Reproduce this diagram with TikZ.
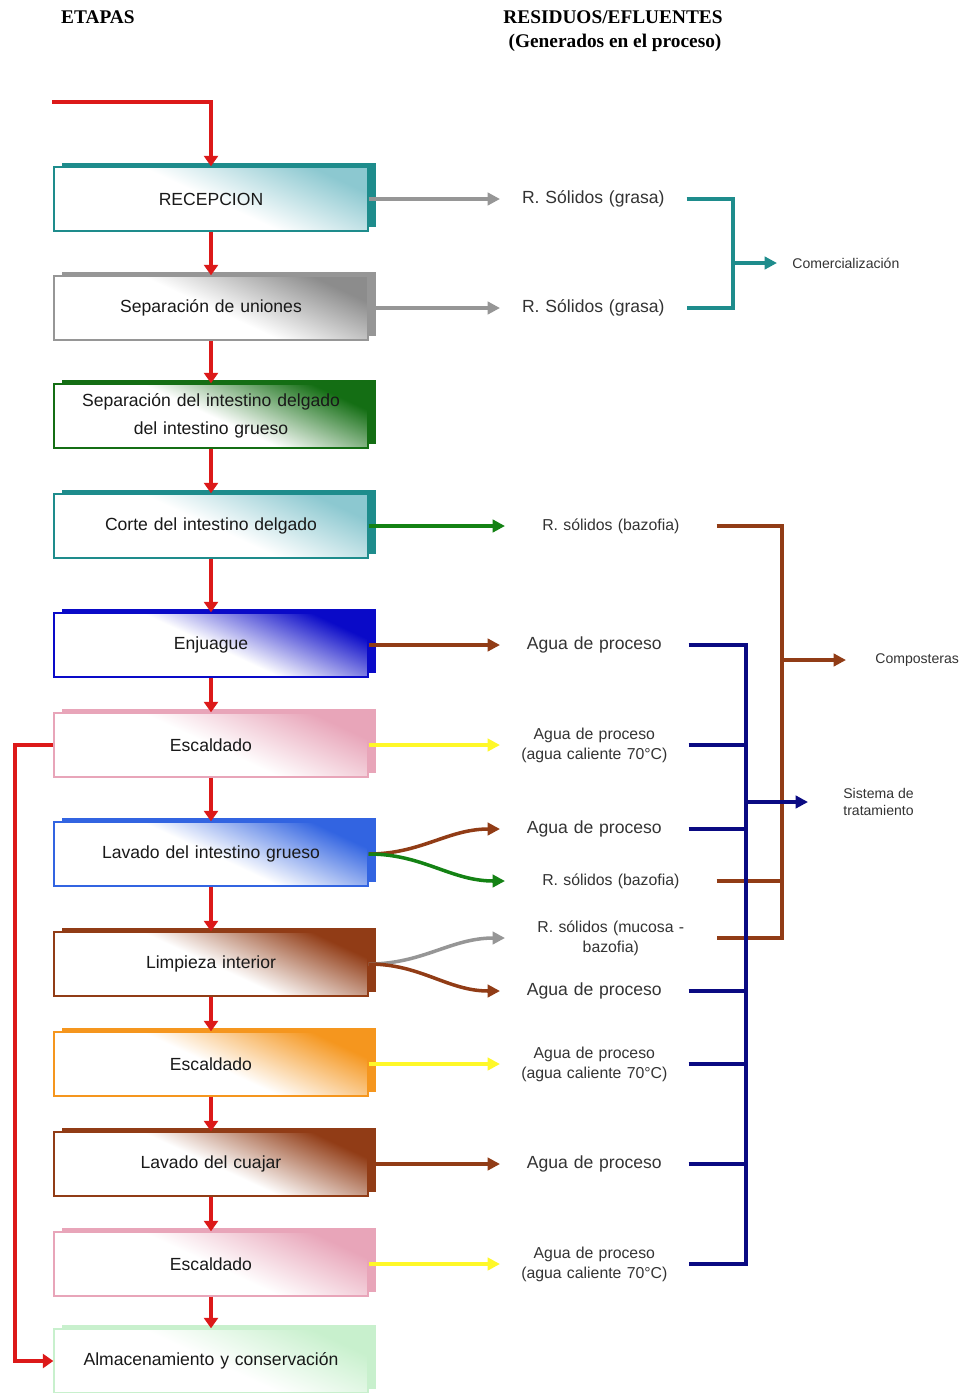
\documentclass[tikz,border=0pt]{standalone}
\usepackage{fontspec}
\setmainfont{Liberation Sans}
\newfontfamily\serifetapa{Liberation Serif}
\usetikzlibrary{arrows.meta,shadows}

\definecolor{verdeazul}{RGB}{30,140,140}
\definecolor{verdeazulclaro}{RGB}{140,200,208}
\definecolor{gris}{RGB}{150,150,150}
\definecolor{grisclaro}{RGB}{140,140,140}
\definecolor{verde}{RGB}{20,110,20}
\definecolor{azul}{RGB}{10,10,200}
\definecolor{azulrey}{RGB}{50,100,225}
\definecolor{rosa}{RGB}{232,165,185}
\definecolor{cafe}{RGB}{145,60,22}
\definecolor{naranja}{RGB}{245,150,30}
\definecolor{verdeclaro}{RGB}{200,240,205}
\definecolor{rojo}{RGB}{220,25,25}
\definecolor{amarillo}{RGB}{255,248,40}
\definecolor{marino}{RGB}{10,10,130}
\definecolor{verdeflecha}{RGB}{20,130,20}

\begin{document}
\begin{tikzpicture}[x=0.02cm,y=-0.02cm,
	etapa/.style 2 args={draw=#1, line width=0.8pt, minimum width=6.28cm, minimum height=1.28cm,
		text width=6cm, align=center, font=\fontsize{10}{16}\selectfont, text=black!90,
		general shadow={fill=#1, shadow xshift=0.16cm, shadow yshift=0.08cm},
		top color=#2, bottom color=white, middle color=white, shading angle=-25},
	residuo/.style={anchor=west, inner sep=0pt, text width=#1, align=center,
		font=\fontsize{10}{12}\selectfont, text=black!80},
	destino/.style={anchor=west, inner xsep=0.3cm, align=left,
		font=\fontsize{8}{9.5}\selectfont, text=black!80},
	titulo/.style={font=\serifetapa\bfseries\fontsize{11}{13}\selectfont},
	flujo/.style={draw=rojo, line width=2.3pt, -{Triangle[length=6pt,width=8pt]}},
	salida/.style={line width=2pt, -{Triangle[length=7pt,width=7pt]}},
	colector/.style={line width=2.3pt}]
	\useasboundingbox (0,0) rectangle (964,1393);

	\node (etapas) at (55,17) [titulo, anchor=west] {ETAPAS};
	\node (residuos) at (613,17) [titulo] {RESIDUOS/EFLUENTES};
	\node (generados) at (615,43) [titulo] {(Generados en el proceso)};

	\node (e1) at (211,199) [etapa={verdeazul}{verdeazulclaro}] {RECEPCION};
	\node (e2) at (211,308) [etapa={gris}{grisclaro}] {Separación de uniones};
	\node (e3) at (211,416) [etapa={verde}{verde}] {Separación del intestino delgado\\del intestino grueso};
	\node (e4) at (211,526) [etapa={verdeazul}{verdeazulclaro}] {Corte del intestino delgado};
	\node (e5) at (211,645) [etapa={azul}{azul}] {Enjuague};
	\node (e6) at (211,745) [etapa={rosa}{rosa}] {Escaldado};
	\node (e7) at (211,854) [etapa={azulrey}{azulrey}] {Lavado del intestino grueso};
	\node (e8) at (211,964) [etapa={cafe}{cafe}] {Limpieza interior};
	\node (e9) at (211,1064) [etapa={naranja}{naranja}] {Escaldado};
	\node (e10) at (211,1164) [etapa={cafe}{cafe}] {Lavado del cuajar};
	\node (e11) at (211,1264) [etapa={rosa}{rosa}] {Escaldado};
	\node (e12) at (211,1361) [etapa={verdeclaro}{verdeclaro}] {Almacenamiento y conservación};

	\node (r1) at (500,199) [residuo=3.72cm] {R. Sólidos (grasa)};
	\node (r2) at (500,308) [residuo=3.72cm] {R. Sólidos (grasa)};
	\node (s1) at (505,526) [residuo=4.22cm, font=\fontsize{9}{11.4}\selectfont] {R. sólidos (bazofia)};
	\node (a1) at (500,645) [residuo=3.76cm] {Agua de proceso};
	\node (a2) at (500,745) [residuo=3.76cm, font=\fontsize{9}{11.4}\selectfont] {Agua de proceso\\(agua caliente 70°C)};
	\node (a3) at (500,829) [residuo=3.76cm] {Agua de proceso};
	\node (s2) at (505,881) [residuo=4.22cm, font=\fontsize{9}{11.4}\selectfont] {R. sólidos (bazofia)};
	\node (s3) at (505,938) [residuo=4.22cm, font=\fontsize{9}{11.4}\selectfont] {R. sólidos (mucosa -\\bazofia)};
	\node (a4) at (500,991) [residuo=3.76cm] {Agua de proceso};
	\node (a5) at (500,1064) [residuo=3.76cm, font=\fontsize{9}{11.4}\selectfont] {Agua de proceso\\(agua caliente 70°C)};
	\node (a6) at (500,1164) [residuo=3.76cm] {Agua de proceso};
	\node (a7) at (500,1264) [residuo=3.76cm, font=\fontsize{9}{11.4}\selectfont] {Agua de proceso\\(agua caliente 70°C)};

	\node (comer) at (777,263) [destino] {Comercialización};
	\node (comp) at (846,660) [destino, inner xsep=0.58cm] {Composteras};
	\node (sist) at (808,802) [destino, inner xsep=0.7cm] {Sistema de\\tratamiento};

	\coordinate (inicio) at (52,102);
	\coordinate (lazo) at (15,745);
	\coordinate (tb) at (733,308);
	\coordinate (tsal) at (733,263);
	\coordinate (kb) at (782,938);
	\coordinate (ksal) at (782,660);
	\coordinate (nb) at (746,1264);
	\coordinate (nsal) at (746,802);

	\draw[flujo] (inicio) -| (e1.north);
	\foreach \a/\b in {e1/e2,e2/e3,e3/e4,e4/e5,e5/e6,e6/e7,e7/e8,e8/e9,e9/e10,e10/e11,e11/e12}
	{
		\draw[flujo] (\a.south) -- (\b.north);
	}
	\draw[flujo] (e6.west) -- (lazo) |- (e12.west);

	\foreach \e/\r/\c in {e1/r1/gris,e2/r2/gris,e4/s1/verdeflecha,e5/a1/cafe,e6/a2/amarillo,e9/a5/amarillo,e10/a6/cafe,e11/a7/amarillo}
	{
		\draw[salida, draw=\c] (\e.east) -- (\r.west);
	}
	\draw[salida, draw=cafe] (e7.east) to[out=0,in=180] (a3.west);
	\draw[salida, draw=verdeflecha] (e7.east) to[out=0,in=180] (s2.west);
	\draw[salida, draw=gris] (e8.east) to[out=0,in=180] (s3.west);
	\draw[salida, draw=cafe] (e8.east) to[out=0,in=180] (a4.west);

	\draw[colector, draw=verdeazul] (r1.east) -| (tb) -- (r2.east);
	\draw[salida, colector, draw=verdeazul] (tsal) -- (comer.west);

	\draw[colector, draw=cafe] (s1.east) -| (kb) -- (s3.east);
	\draw[colector, draw=cafe] (s2.east) -- (s2.east -| kb);
	\draw[salida, colector, draw=cafe] (ksal) -- (comp.west);

	\draw[colector, draw=marino] (a1.east) -| (nb) -- (a7.east);
	\foreach \n in {a2,a3,a4,a5,a6}
	{
		\draw[colector, draw=marino] (\n.east) -- (\n.east -| nb);
	}
	\draw[salida, colector, draw=marino] (nsal) -- (sist.west);
\end{tikzpicture}
\end{document}
